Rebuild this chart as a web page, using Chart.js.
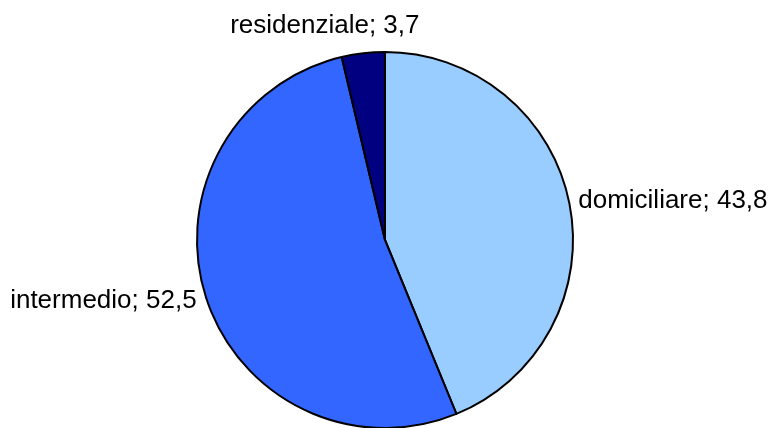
<!DOCTYPE html>
<html>
<head>
<meta charset="utf-8">
<script src="https://cdn.jsdelivr.net/npm/chart.js@4.4.1/dist/chart.umd.min.js"></script>
<style>
  html, body { margin: 0; padding: 0; background: #fff; }
  #wrap { width: 773px; height: 428px; overflow: hidden; position: relative; }
</style>
</head>
<body>
<div id="wrap"><canvas id="myChart" width="773" height="480"></canvas></div>
<script>
// slices, clockwise from 12 o'clock
const categories = ['domiciliare', 'intermedio', 'residenziale'];
const values = [43.8, 52.5, 3.7];
const sliceColors = ['#99CCFF', '#3366FF', '#000080'];

const ctx = document.getElementById('myChart').getContext('2d');

// draws "name; value" next to each slice, like the spreadsheet labels
const outsideLabels = {
    id: 'outsideLabels',
    afterDatasetsDraw(chart) {
        const c = chart.ctx;
        const meta = chart.getDatasetMeta(0);
        c.save();
        c.font = '26px "Liberation Sans", Arial, sans-serif';
        c.fillStyle = '#000';
        c.textBaseline = 'middle';
        meta.data.forEach((arc, i) => {
            const mid = (arc.startAngle + arc.endAngle) / 2;
            const r = arc.outerRadius + 12;
            let x = arc.x + Math.cos(mid) * r;
            let y = arc.y + Math.sin(mid) * r;
            const text = categories[i] + '; ' + values[i].toString().replace('.', ',');
            const cosA = Math.cos(mid);
            if (Math.abs(cosA) < 0.3) {
                // near the top: centred above the pie
                c.textAlign = 'center';
                x -= 37;
                y -= 16;
            } else {
                c.textAlign = cosA > 0 ? 'left' : 'right';
                x += cosA > 0 ? -3 : 2;
            }
            c.fillText(text, x, y);
        });
        c.restore();
    }
};

const myChart = new Chart(ctx, {
    type: 'pie',
    data: {
        labels: categories,
        datasets: [{
            data: values,
            backgroundColor: sliceColors,
            borderColor: '#000',
            borderWidth: 2
        }]
    },
    options: {
        responsive: false,
        animation: false,
        layout: { padding: { top: 51, bottom: 51, left: 196, right: 199 } },
        plugins: {
            legend: { display: false },
            tooltip: { enabled: false }
        }
    },
    plugins: [outsideLabels]
});
</script>
</body>
</html>
